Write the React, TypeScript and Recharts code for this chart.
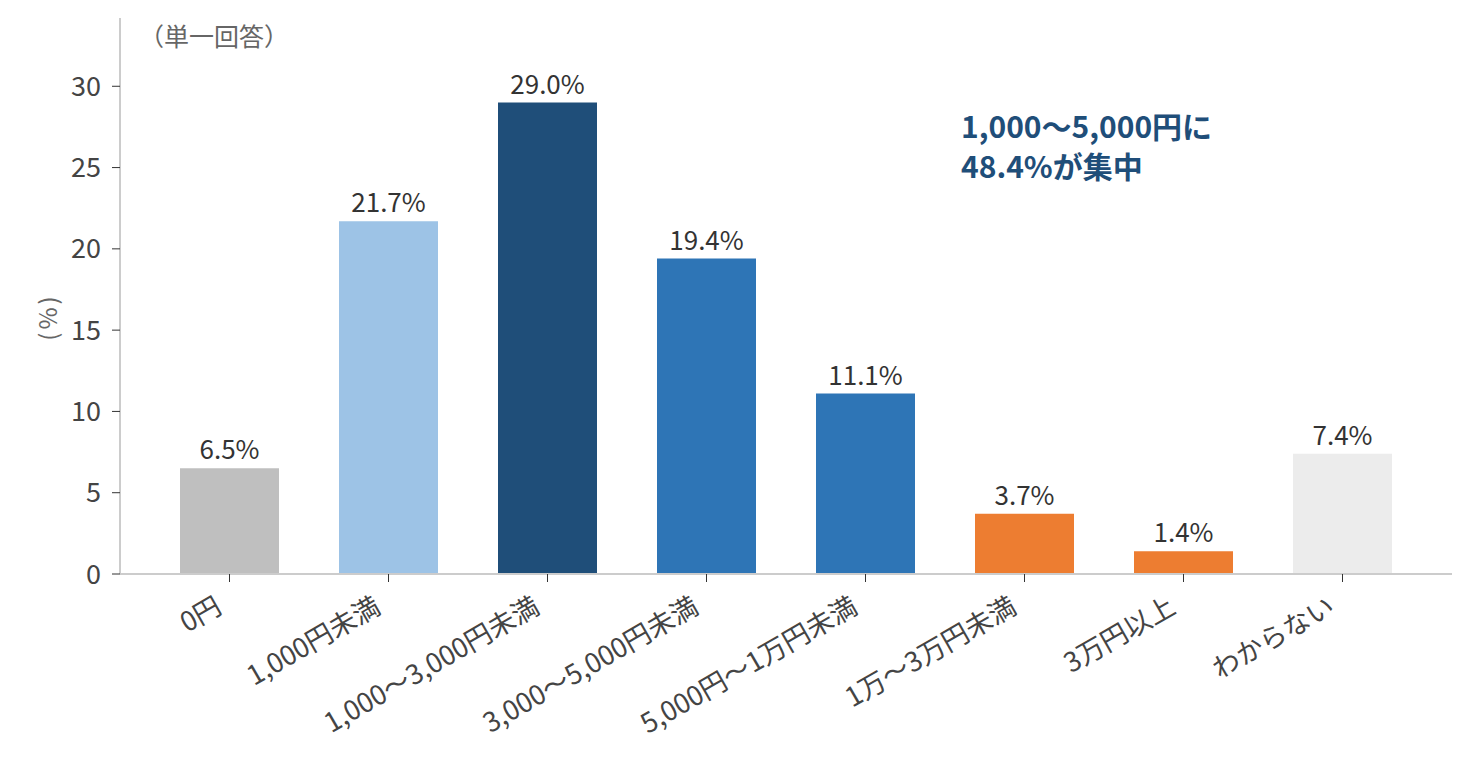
import { BarChart, Bar, XAxis, YAxis, Cell, LabelList } from "recharts";

const FONT = "'Noto Sans CJK JP', 'Noto Sans', sans-serif";

const categories = [
  "0円",
  "1,000円未満",
  "1,000〜3,000円未満",
  "3,000〜5,000円未満",
  "5,000円〜1万円未満",
  "1万〜3万円未満",
  "3万円以上",
  "わからない",
];
const values = [6.5, 21.7, 29.0, 19.4, 11.1, 3.7, 1.4, 7.4];
const barColors = [
  "#bfbfbf",
  "#9dc3e6",
  "#1f4e79",
  "#2e75b6",
  "#2e75b6",
  "#ed7d31",
  "#ed7d31",
  "#ececec",
];
const yTicks = [0, 5, 10, 15, 20, 25, 30];

const data = categories.map((name, i) => ({ name, value: values[i] }));

const XTick = ({ x, y, payload }: any) => (
  <g transform={`translate(${x - 6},${y + 28}) rotate(-30)`}>
    <text x={0} y={0} textAnchor="end" fill="#444" fontSize={27} fontFamily={FONT}>
      {payload.value}
    </text>
  </g>
);

export default function App() {
  return (
    <div style={{ position: "absolute", left: 0, top: 0, width: 1472, height: 765, background: "#fff" }}>
      <BarChart
        width={1472}
        height={765}
        data={data}
        margin={{ top: 18, right: 20, left: 0, bottom: 0 }}
      >
        <XAxis
          dataKey="name"
          height={191}
          interval={0}
          padding={{ left: 30, right: 30 }}
          axisLine={{ stroke: "#cccccc", strokeWidth: 2 }}
          tickLine={{ stroke: "#333" }}
          tickSize={8}
          tick={<XTick />}
        />
        <YAxis
          width={120}
          domain={[0, 34.2]}
          ticks={yTicks}
          axisLine={{ stroke: "#cccccc", strokeWidth: 2 }}
          tickLine={{ stroke: "#333" }}
          tickSize={8}
          tickMargin={11}
          tick={{ fill: "#444", fontSize: 27, fontFamily: FONT }}
        />
        <Bar dataKey="value" barSize={99} isAnimationActive={false}>
          {data.map((d, i) => (
            <Cell key={d.name} fill={barColors[i]} />
          ))}
          <LabelList
            dataKey="value"
            position="top"
            offset={9}
            formatter={(v: any) => `${Number(v).toFixed(1)}%`}
            fill="#333"
            fontSize={26}
            fontFamily={FONT}
          />
        </Bar>
      </BarChart>
      <div
        style={{
          position: "absolute",
          left: 139,
          top: 23,
          fontFamily: FONT,
          fontSize: 25,
          color: "#666",
          lineHeight: 1,
        }}
      >
        （単一回答）
      </div>
      <div
        style={{
          position: "absolute",
          left: 17,
          top: 305,
          width: 60,
          textAlign: "center",
          fontFamily: FONT,
          fontSize: 24,
          letterSpacing: 3,
          color: "#666",
          lineHeight: 1,
          transform: "rotate(-90deg)",
        }}
      >
        (%)
      </div>
      <div
        style={{
          position: "absolute",
          left: 961,
          top: 105,
          fontFamily: FONT,
          fontSize: 30,
          fontWeight: 700,
          color: "#1f4e79",
          lineHeight: "40px",
        }}
      >
        1,000〜5,000円に
        <br />
        48.4%が集中
      </div>
    </div>
  );
}
